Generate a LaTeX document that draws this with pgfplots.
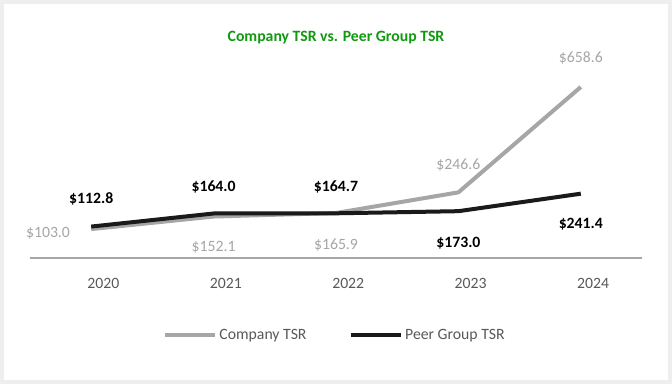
\documentclass[border=0pt]{standalone}
\usepackage{pgfplots}
\pgfplotsset{compat=1.18}
\usepackage{fontspec}
\setmainfont{Carlito}
\definecolor{compgray}{HTML}{A6A6A6}
\definecolor{peerblack}{HTML}{1A1A1A}
\definecolor{titlegreen}{HTML}{109A10}
\definecolor{txtgray}{HTML}{595959}
\definecolor{framegray}{HTML}{EEEEEE}
\begin{document}
\begin{tikzpicture}[x=1pt,y=1pt]
\fill[framegray] (0,0) rectangle (504,288);
\fill[white] (3,3) rectangle (501,285);
\node[font=\fontsize{11.8}{14}\selectfont\bfseries, text=titlegreen] at (252,260) {Company TSR vs. Peer Group TSR};
\begin{axis}[
  at={(22.5pt,94.5pt)}, anchor=south west,
  scale only axis, width=459pt, height=141pt,
  xmin=-0.5, xmax=4.5, ymin=-10, ymax=725,
  clip=false,
  axis y line=none,
  axis x line*=bottom,
  x axis line style={draw=compgray, line width=1pt, -},
  xtick={0.1,1.1,2.1,3.1,4.1},
  xticklabels={2020,2021,2022,2023,2024},
  major tick length=0pt,
  xticklabel style={font=\fontsize{11.8}{14}\selectfont, text=txtgray, yshift=-12pt},
  legend columns=2,
  legend style={draw=none, at={(0.499,-0.41)}, anchor=center, font=\fontsize{11.8}{14}\selectfont, text=txtgray,
    /tikz/every even column/.append style={column sep=30pt}},
  legend image code/.code={\draw[#1] (0pt,0pt) -- (37pt,0pt);},
]
\addplot[compgray, line width=3pt, line join=round] coordinates {(0,103.0) (1,152.1) (2,165.9) (3,246.6) (4,658.6)};
\addlegendentry{Company TSR}
\addplot[peerblack, line width=3pt, line join=round] coordinates {(0,112.8) (1,164.0) (2,164.7) (3,173.0) (4,241.4)};
\addlegendentry{Peer Group TSR}
% Company labels
\begin{scope}[every node/.style={font=\fontsize{11.8}{14}\selectfont, text=compgray}]
\node at (axis cs:-0.353,87.8) {\$103.0};
\node at (axis cs:1,33) {\$152.1};
\node at (axis cs:2,40) {\$165.9};
\node at (axis cs:3,353.8) {\$246.6};
\node at (axis cs:4,772.5) {\$658.6};
\end{scope}
% Peer labels
\begin{scope}[every node/.style={font=\fontsize{11.8}{14}\selectfont\bfseries, text=black}]
\node at (axis cs:0,220.8) {\$112.8};
\node at (axis cs:1,267.8) {\$164.0};
\node at (axis cs:2,268) {\$164.7};
\node at (axis cs:3,48.7) {\$173.0};
\node at (axis cs:4,123) {\$241.4};
\end{scope}
\end{axis}
\end{tikzpicture}
\end{document}
